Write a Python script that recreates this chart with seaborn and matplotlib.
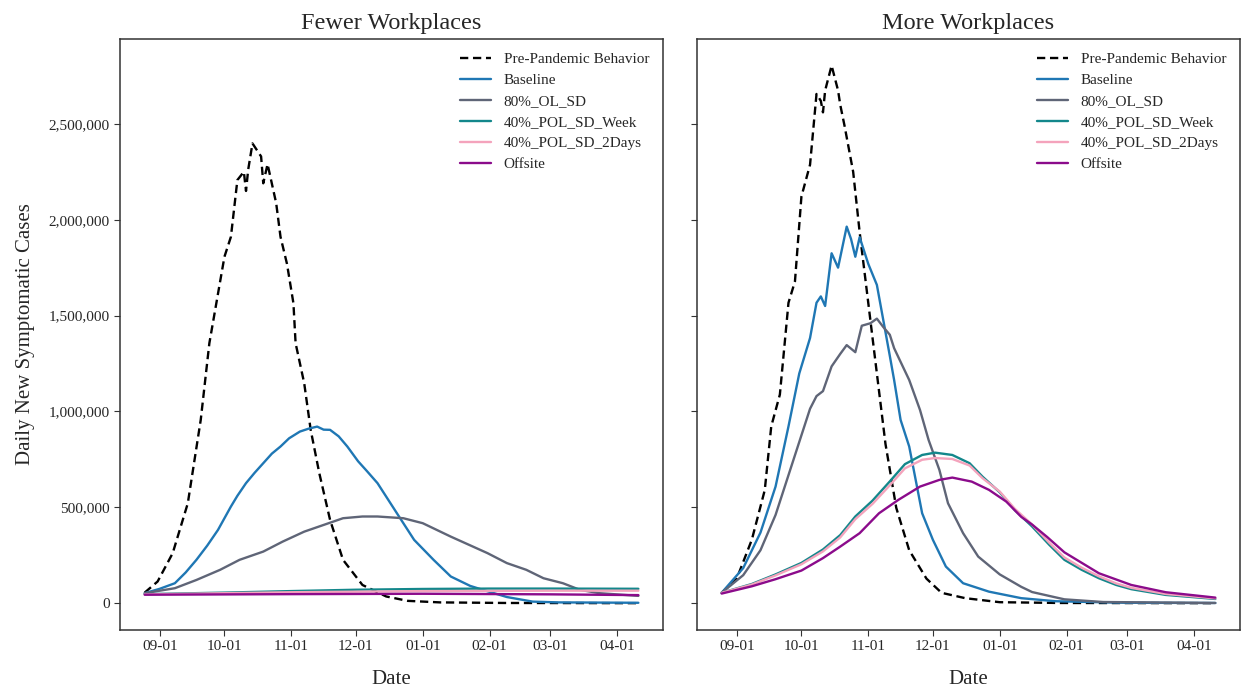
import numpy as np
import pandas as pd
import matplotlib
matplotlib.use('Agg')
import matplotlib.pyplot as plt
import matplotlib.dates as mdates
from matplotlib.ticker import StrMethodFormatter
import seaborn as sns

# dates are given as days after 2020-08-25, cases in thousands
start = pd.Timestamp('2020-08-25')

scenarios = ['Pre-Pandemic Behavior', 'Baseline', '80%_OL_SD',
             '40%_POL_SD_Week', '40%_POL_SD_2Days', 'Offsite']
colors = ['black', '#1f77b4', '#5f6577', '#13878b', '#f4a3bc', '#8b0b8b']
panels = ['Fewer Workplaces', 'More Workplaces']

# ---- Fewer Workplaces ----
fewer_pre_days = [0, 6, 13, 20, 26, 30, 37, 40, 43, 46, 47, 48, 50, 54, 55, 57, 61, 63,
                  66, 69, 70, 74, 77, 81, 86, 92, 101, 112, 122, 137, 167, 229]
fewer_pre_vals = [55, 113, 261, 521, 956, 1356, 1807, 1911, 2207, 2250, 2150, 2260, 2398,
                  2330, 2190, 2290, 2086, 1911, 1770, 1564, 1356, 1147, 904, 678, 434, 226,
                  95, 35, 12, 4, 1, 0]

fewer_base_days = [0, 7, 14, 19, 24, 29, 34, 40, 43, 47, 51, 55, 59, 63, 67, 72, 76, 80,
                   83, 86, 90, 94, 99, 103, 108, 117, 125, 134, 142, 151, 157, 168, 180,
                   192, 229]
fewer_base_vals = [52, 75, 104, 160, 226, 300, 382, 504, 560, 626, 680, 730, 780, 817,
                   860, 895, 910, 921, 905, 904, 870, 817, 740, 690, 626, 469, 330, 226,
                   139, 90, 69, 32, 8, 4, 2]

fewer_ol_days = [0, 14, 24, 35, 44, 55, 64, 74, 83, 92, 101, 108, 120, 129, 142, 159, 168,
                 177, 185, 194, 202, 211, 229]
fewer_ol_vals = [52, 78, 121, 174, 226, 269, 321, 373, 408, 443, 452, 452, 443, 417, 347,
                 261, 209, 174, 130, 104, 69, 52, 38]

fewer_week_days = [0, 37, 68, 98, 129, 160, 188, 229]
fewer_week_vals = [47, 55, 63, 70, 74, 76, 76, 75]

fewer_2days_days = [0, 68, 129, 188, 229]
fewer_2days_vals = [46, 57, 63, 65, 65]

fewer_off_days = [0, 68, 129, 188, 229]
fewer_off_vals = [44, 47, 49, 46, 42]

# ---- More Workplaces ----
more_pre_days = [0, 7, 14, 20, 23, 27, 31, 34, 37, 41, 44, 46, 47, 48, 51, 54, 55, 57,
                 61, 64, 68, 72, 76, 81, 87, 95, 102, 113, 129, 157, 229]
more_pre_vals = [54, 128, 331, 590, 922, 1088, 1567, 1678, 2121, 2287, 2656, 2620, 2560,
                 2674, 2804, 2674, 2600, 2490, 2250, 1936, 1567, 1198, 830, 497, 276, 128,
                 54, 26, 5, 1, 0]

more_base_days = [0, 10, 18, 25, 31, 36, 41, 44, 46, 48, 51, 54, 58, 60, 62, 64, 68, 72,
                  75, 78, 80, 83, 87, 90, 93, 98, 104, 112, 124, 139, 155, 187, 229]
more_base_vals = [54, 183, 368, 608, 922, 1198, 1383, 1567, 1600, 1550, 1825, 1750, 1964,
                  1900, 1807, 1909, 1770, 1660, 1475, 1290, 1164, 956, 817, 643, 469, 330,
                  191, 104, 60, 26, 10, 2, 1]

more_ol_days = [0, 10, 18, 25, 33, 41, 44, 47, 51, 55, 58, 62, 65, 69, 72, 75, 78, 80,
                84, 87, 92, 96, 101, 105, 112, 119, 129, 139, 144, 155, 159, 177, 229]
more_ol_vals = [54, 146, 276, 460, 737, 1014, 1080, 1106, 1235, 1300, 1346, 1309, 1447,
                1460, 1484, 1440, 1400, 1330, 1235, 1164, 1008, 851, 695, 521, 365, 243,
                150, 85, 58, 30, 20, 6, 1]

more_week_days = [0, 14, 25, 37, 47, 55, 62, 70, 78, 85, 93, 99, 107, 115, 121, 129, 136,
                  144, 152, 159, 167, 175, 183, 190, 206, 229]
more_week_vals = [54, 100, 150, 210, 280, 355, 452, 535, 635, 725, 773, 785, 773, 730,
                  660, 578, 485, 400, 304, 226, 174, 130, 95, 73, 43, 22]

more_2days_days = [0, 14, 25, 37, 47, 55, 62, 70, 78, 85, 93, 99, 107, 115, 121, 129, 136,
                   144, 152, 159, 167, 175, 183, 190, 206, 229]
more_2days_vals = [54, 97, 145, 203, 270, 343, 438, 518, 615, 703, 748, 757, 752, 718,
                   652, 582, 492, 410, 315, 238, 185, 140, 103, 80, 48, 25]

more_off_days = [0, 14, 25, 37, 47, 55, 64, 73, 82, 92, 101, 107, 116, 124, 132, 139, 144,
                 151, 159, 175, 190, 206, 229]
more_off_vals = [50, 88, 125, 170, 235, 295, 365, 469, 539, 608, 643, 655, 634, 591, 530,
                 450, 410, 345, 265, 156, 95, 57, 29]

series = {
    ('Fewer Workplaces', 'Pre-Pandemic Behavior'): (fewer_pre_days, fewer_pre_vals),
    ('Fewer Workplaces', 'Baseline'): (fewer_base_days, fewer_base_vals),
    ('Fewer Workplaces', '80%_OL_SD'): (fewer_ol_days, fewer_ol_vals),
    ('Fewer Workplaces', '40%_POL_SD_Week'): (fewer_week_days, fewer_week_vals),
    ('Fewer Workplaces', '40%_POL_SD_2Days'): (fewer_2days_days, fewer_2days_vals),
    ('Fewer Workplaces', 'Offsite'): (fewer_off_days, fewer_off_vals),
    ('More Workplaces', 'Pre-Pandemic Behavior'): (more_pre_days, more_pre_vals),
    ('More Workplaces', 'Baseline'): (more_base_days, more_base_vals),
    ('More Workplaces', '80%_OL_SD'): (more_ol_days, more_ol_vals),
    ('More Workplaces', '40%_POL_SD_Week'): (more_week_days, more_week_vals),
    ('More Workplaces', '40%_POL_SD_2Days'): (more_2days_days, more_2days_vals),
    ('More Workplaces', 'Offsite'): (more_off_days, more_off_vals),
}

frames = []
for (panel, scen), (days, vals) in series.items():
    frames.append(pd.DataFrame({
        'Date': start + pd.to_timedelta(days, unit='D'),
        'cases': np.array(vals) * 1000,
        'scenario': scen,
        'panel': panel,
    }))
df = pd.concat(frames, ignore_index=True)

sns.set_style('ticks')
plt.rcParams['font.family'] = ['Liberation Serif', 'DejaVu Serif']
plt.rcParams['axes.edgecolor'] = '#333333'
plt.rcParams['axes.linewidth'] = 1.1

palette = dict(zip(scenarios, colors))
dashes = {s: '' for s in scenarios}
dashes['Pre-Pandemic Behavior'] = (3.5, 2)

fig, axes = plt.subplots(1, 2, sharey=True, figsize=(12.41, 6.88), dpi=100)
plt.subplots_adjust(left=0.0967, right=0.9992, bottom=0.0843, top=0.9437, wspace=0.0625)

for ax, panel in zip(axes, panels):
    sub = df[df['panel'] == panel]
    sns.lineplot(data=sub, x='Date', y='cases', hue='scenario', style='scenario',
                 hue_order=scenarios, style_order=scenarios, palette=palette,
                 dashes=dashes, estimator=None, linewidth=1.7, ax=ax)
    ax.set_title(panel, fontsize=17.5, pad=7)
    ax.set_xlabel('Date', fontsize=15, labelpad=12)
    ax.xaxis.set_major_locator(mdates.MonthLocator())
    ax.xaxis.set_major_formatter(mdates.DateFormatter('%m-%d'))
    ax.tick_params(labelsize=11, length=4, color='#333333')
    sns.move_legend(ax, 'upper right', title=None, frameon=False, fontsize=11,
                    labelspacing=0.48, handlelength=2.0, handletextpad=0.85)

axes[0].set_ylabel('Daily New Symptomatic Cases', fontsize=15, labelpad=10)
axes[1].set_ylabel('')
axes[0].yaxis.set_major_formatter(StrMethodFormatter('{x:,.0f}'))
axes[0].set_ylim(-140000, 2944000)

plt.savefig('out.png', dpi=100)
